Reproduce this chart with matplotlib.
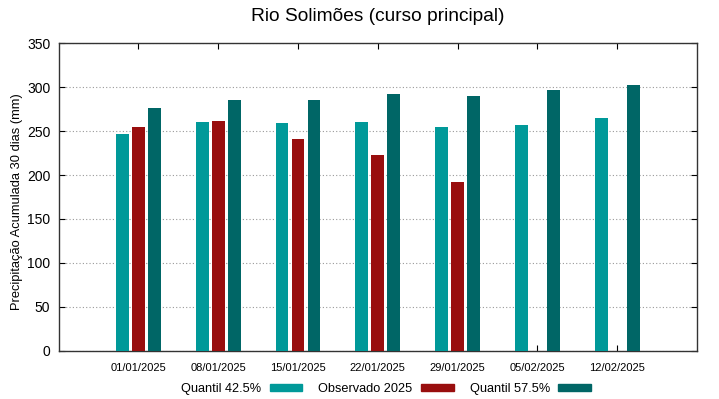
import matplotlib
matplotlib.use("Agg")
import matplotlib.pyplot as plt
from matplotlib.patches import Patch
import numpy as np

plt.rcParams['font.family'] = ['Liberation Sans', 'DejaVu Sans']

dates = ["01/01/2025", "08/01/2025", "15/01/2025", "22/01/2025",
         "29/01/2025", "05/02/2025", "12/02/2025"]
q425 = [247, 260, 259, 260, 255, 257, 265]
obs2025 = [255, 262, 241, 223, 192, None, None]
q575 = [276, 286, 285, 292, 290, 297, 302]

c_q425 = "#009999"
c_obs = "#990e0e"
c_q575 = "#006666"

fig = plt.figure(figsize=(7.19, 3.99), dpi=100)
ax = fig.add_axes([0.0816, 0.121, 0.9694 - 0.0816, 0.8915 - 0.121])

x = np.arange(len(dates))
w = 0.16
ax.bar(x - 0.2, q425, width=w, color=c_q425, zorder=3)
xo = [xi for xi, v in zip(x, obs2025) if v is not None]
vo = [v for v in obs2025 if v is not None]
ax.bar(np.array(xo), vo, width=w, color=c_obs, zorder=3)
ax.bar(x + 0.2, q575, width=w, color=c_q575, zorder=3)

ax.set_xlim(-1, 7)
ax.set_ylim(0, 350)
ax.set_yticks(np.arange(0, 351, 50))
ax.set_xticks(x)
ax.set_xticklabels(dates, fontsize=8)
ax.tick_params(axis='y', labelsize=10, direction='in', length=4, pad=6,
               right=True, width=0.8)
ax.tick_params(axis='x', direction='in', length=4, pad=8.5, top=True, width=0.8)
ax.yaxis.grid(True, linestyle=(0, (1, 2)), color='#999999', linewidth=0.8, zorder=0)
for s in ax.spines.values():
    s.set_color('#333333')
    s.set_linewidth(1.0)

ax.set_ylabel("Precipitação Acumulada 30 dias (mm)", fontsize=9.3)
ax.yaxis.set_label_coords(-0.056, 0.485)
fig.suptitle("Rio Solimões (curso principal)", fontsize=13.8, x=0.5257, y=0.98)

handles = [Patch(color=c_q425, label="Quantil 42.5%"),
           Patch(color=c_obs, label="Observado 2025"),
           Patch(color=c_q575, label="Quantil 57.5%")]
fig.legend(handles=handles, loc='center', bbox_to_anchor=(0.537, 0.025),
           ncol=3, frameon=False, markerfirst=False, fontsize=9.2,
           handlelength=2.58, handleheight=0.42, handletextpad=0.62,
           columnspacing=1.25, borderaxespad=0)

fig.savefig("out.png", dpi=100)
